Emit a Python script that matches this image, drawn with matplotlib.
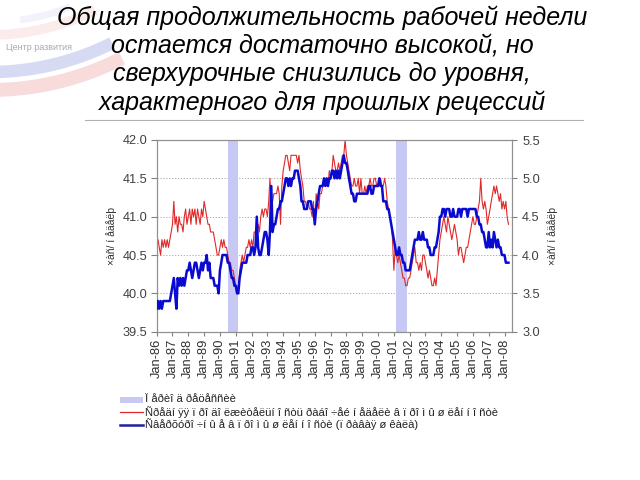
import matplotlib
matplotlib.use("Agg")
import matplotlib.pyplot as plt
import matplotlib.dates as mdates
from matplotlib.patches import Rectangle
from matplotlib.lines import Line2D
import numpy as np
import pandas as pd

plt.rcParams['font.family'] = ['Liberation Sans', 'DejaVu Sans']

# ---- data ----
start_month = "1986-01-01"

# Average weekly hours, manufacturing (left scale)
hours = [
    40.7, 40.7, 40.6, 40.5, 40.7, 40.6, 40.7, 40.6, 40.7, 40.6, 40.7, 40.8,  # 1986
    40.9, 41.2, 40.9, 41.0, 40.8, 41.0, 40.9, 40.9, 40.8, 41.0, 41.1, 40.9,  # 1987
    41.0, 41.1, 40.9, 41.1, 41.0, 41.1, 40.9, 41.1, 41.0, 40.9, 41.1, 41.0,  # 1988
    41.2, 41.1, 41.0, 40.9, 40.9, 40.8, 40.8, 40.8, 40.7, 40.6, 40.5, 40.5,  # 1989
    40.6, 40.7, 40.6, 40.7, 40.6, 40.6, 40.5, 40.4, 40.4, 40.3, 40.3, 40.2,  # 1990
    40.1, 40.1, 40.0, 40.3, 40.4, 40.5, 40.4, 40.5, 40.6, 40.6, 40.7, 40.6,  # 1991
    40.7, 40.6, 40.8, 40.8, 40.8, 40.9, 40.8, 41.0, 41.1, 41.0, 41.1, 41.1,  # 1992
    41.0, 41.2, 41.5, 41.2, 41.2, 41.3, 41.3, 41.3, 41.4, 41.3, 40.9, 41.4,  # 1993
    41.6, 41.7, 41.8, 41.8, 41.7, 41.6, 41.8, 41.8, 41.8, 41.8, 41.8, 41.7,  # 1994
    41.8, 41.6, 41.5, 41.4, 41.2, 41.2, 41.1, 41.2, 41.1, 41.1, 41.0, 41.2,  # 1995
    40.9, 41.3, 41.2, 41.1, 41.3, 41.3, 41.4, 41.5, 41.4, 41.5, 41.4, 41.6,  # 1996
    41.5, 41.6, 41.8, 41.7, 41.6, 41.6, 41.7, 41.6, 41.7, 41.8, 41.8, 42.0,  # 1997
    41.8, 41.7, 41.6, 41.5, 41.4, 41.4, 41.5, 41.4, 41.4, 41.5, 41.3, 41.5,  # 1998
    41.3, 41.3, 41.4, 41.3, 41.4, 41.4, 41.5, 41.4, 41.4, 41.5, 41.5, 41.4,  # 1999
    41.4, 41.5, 41.5, 41.4, 41.4, 41.5, 41.4, 41.2, 41.1, 41.0, 40.9, 40.7,  # 2000
    40.3, 40.6, 40.5, 40.4, 40.5, 40.4, 40.3, 40.2, 40.2, 40.1, 40.1, 40.2,  # 2001
    40.2, 40.3, 40.4, 40.5, 40.6, 40.4, 40.4, 40.3, 40.4, 40.3, 40.5, 40.5,  # 2002
    40.4, 40.3, 40.2, 40.3, 40.2, 40.1, 40.1, 40.2, 40.1, 40.3, 40.5, 40.7,  # 2003
    40.8, 40.9, 41.0, 40.9, 40.8, 41.0, 40.9, 40.8, 40.7, 40.8, 40.9, 40.8,  # 2004
    40.7, 40.5, 40.6, 40.6, 40.5, 40.4, 40.5, 40.6, 40.6, 40.7, 40.8, 40.9,  # 2005
    41.0, 40.9, 40.9, 41.0, 41.1, 41.2, 41.5, 41.2, 41.1, 41.2, 41.1, 40.9,  # 2006
    41.0, 41.1, 41.2, 41.3, 41.4, 41.3, 41.4, 41.3, 41.2, 41.3, 41.1, 41.2,  # 2007
    41.1, 41.2, 41.0, 40.9,                                                  # 2008
]

# Overtime hours, manufacturing (right scale)
overtime = [
    3.3, 3.4, 3.3, 3.4, 3.3, 3.4, 3.4, 3.4, 3.4, 3.4, 3.4, 3.5,  # 1986
    3.6, 3.7, 3.5, 3.3, 3.7, 3.6, 3.7, 3.6, 3.7, 3.6, 3.7, 3.8,  # 1987
    3.8, 3.9, 3.8, 3.7, 3.8, 3.9, 3.9, 3.8, 3.7, 3.8, 3.9, 3.8,  # 1988
    3.9, 3.9, 4.0, 3.8, 3.9, 3.7, 3.7, 3.7, 3.6, 3.6, 3.6, 3.5,  # 1989
    3.8, 3.9, 4.0, 4.0, 4.0, 4.0, 3.9, 3.9, 3.8, 3.7, 3.7, 3.6,  # 1990
    3.6, 3.5, 3.5, 3.7, 3.8, 3.9, 3.9, 3.9, 3.9, 4.0, 4.0, 4.0,  # 1991
    4.1, 4.1, 4.0, 4.1, 4.5, 4.1, 4.0, 4.0, 4.1, 4.2, 4.3, 4.3,  # 1992
    4.2, 4.0, 4.3, 4.9, 4.3, 4.4, 4.4, 4.5, 4.6, 4.6, 4.7, 4.7,  # 1993
    4.8, 4.9, 5.0, 5.0, 4.9, 5.0, 4.9, 5.0, 5.0, 5.1, 5.1, 5.1,  # 1994
    5.0, 4.9, 4.7, 4.7, 4.6, 4.6, 4.6, 4.7, 4.7, 4.7, 4.6, 4.6,  # 1995
    4.4, 4.6, 4.7, 4.8, 4.9, 4.9, 4.9, 5.0, 4.9, 5.0, 4.9, 5.0,  # 1996
    5.0, 5.1, 5.1, 5.0, 5.1, 5.0, 5.1, 5.0, 5.1, 5.2, 5.3, 5.2,  # 1997
    5.2, 5.1, 5.0, 4.9, 4.8, 4.8, 4.7, 4.7, 4.8, 4.8, 4.8, 4.8,  # 1998
    4.8, 4.8, 4.8, 4.8, 4.8, 4.9, 4.9, 4.8, 4.8, 4.9, 4.9, 4.9,  # 1999
    4.9, 5.0, 4.9, 4.9, 4.7, 4.7, 4.7, 4.6, 4.6, 4.5, 4.4, 4.3,  # 2000
    4.2, 4.1, 4.0, 4.0, 4.1, 4.0, 4.0, 3.9, 3.9, 3.8, 3.8, 3.8,  # 2001
    3.8, 3.9, 4.0, 4.1, 4.2, 4.2, 4.2, 4.3, 4.2, 4.2, 4.3, 4.2,  # 2002
    4.2, 4.2, 4.1, 4.1, 4.0, 4.0, 4.0, 4.1, 4.1, 4.2, 4.3, 4.5,  # 2003
    4.5, 4.6, 4.6, 4.5, 4.6, 4.6, 4.6, 4.5, 4.5, 4.6, 4.5, 4.5,  # 2004
    4.5, 4.6, 4.6, 4.5, 4.6, 4.6, 4.6, 4.6, 4.5, 4.6, 4.6, 4.6,  # 2005
    4.6, 4.6, 4.6, 4.5, 4.5, 4.4, 4.4, 4.3, 4.3, 4.2, 4.1, 4.1,  # 2006
    4.3, 4.1, 4.2, 4.1, 4.3, 4.2, 4.1, 4.2, 4.1, 4.1, 4.0, 4.0,  # 2007
    4.0, 3.9, 3.9, 3.9,                                          # 2008
]

recessions = [("1990-07-01", "1991-03-01"), ("2001-03-01", "2001-11-01")]

title_lines = ["Общая продолжительность рабочей недели",
               "остается достаточно высокой, но",
               "сверхурочные снизились до уровня,",
               "характерного для прошлых рецессий"]
lbl_recession = "Ï åðèî ä ðåöåññèè"
lbl_hours = "Ñðåäí ÿÿ ï ðî äî ëæèòåëüí î ñòü ðàáî ÷åé í åäåëè â ï ðî ì û ø ëåí í î ñòè"
lbl_overtime = "Ñâåðõóðî ÷í û å â ï ðî ì û ø ëåí í î ñòè (ï ðàâàÿ ø êàëà)"
ylabel = "×àñ/ í åäåëþ"
logo_text = "Центр развития"

RED = "#e02828"
BLUE = "#0a0ad0"
BAND = "#c8c8f4"

# ---- figure ----
fig = plt.figure(figsize=(6.4, 4.8), dpi=100)
fig.patch.set_facecolor("white")

W, H = 640, 480
def fx(px): return px / W
def fy(py): return 1 - py / H

# faded logo swooshes (decoration)
def arc(cx, cy, r, x0, x1):
    xs = np.linspace(x0, x1, 80)
    ys = cy + np.sqrt(np.clip(r ** 2 - (xs - cx) ** 2, 0, None))
    return fx(xs), fy(ys)
for (cx, cy, r, x0, x1, col, lw, a) in [
        (-10, -200, 290, -5, 122, "#e88a8a", 10, 0.30),
        (-10, -200, 272, -5, 112, "#8c96dc", 9, 0.35),
        (-10, -200, 235, -5, 95, "#f0a8a8", 7, 0.22),
        (-10, -200, 222, 20, 70, "#c8ccee", 5, 0.25)]:
    xs, ys = arc(cx, cy, r, x0, x1)
    fig.add_artist(Line2D(xs, ys, color=col, lw=lw, alpha=a, solid_capstyle="butt"))
fig.text(fx(6), fy(47), logo_text, fontsize=6.5, color="#a8a8b4", va="center", ha="left")

for i, line in enumerate(title_lines):
    fig.text(fx(322), fy(17.5 + 28.3 * i), line, fontsize=18, style="italic",
             ha="center", va="center", color="black")
fig.add_artist(Line2D([fx(85), fx(583)], [fy(120), fy(120)], color="#b0b0b0", lw=0.8))

ax = fig.add_axes([fx(156.7), fy(331.7), fx(511.7) - fx(156.7), fy(140) - fy(331.7)])
ax2 = ax.twinx()

dates = pd.date_range(start_month, periods=len(hours), freq="MS")
dates2 = pd.date_range(start_month, periods=len(overtime), freq="MS")

for s, e in recessions:
    ax.axvspan(pd.Timestamp(s), pd.Timestamp(e), color=BAND, lw=0, zorder=1)

for yv in [40.0, 40.5, 41.0, 41.5]:
    ax.axhline(yv, color="#a0a0a0", lw=0.6, ls=(0, (1.5, 2)), zorder=0.5)

ax.plot(dates, hours, color=RED, lw=0.8, zorder=3)
ax2.plot(dates2, overtime, color=BLUE, lw=1.8, zorder=4)

ax.set_xlim(pd.Timestamp("1986-01-01"), pd.Timestamp("2008-06-15"))
ax.set_ylim(39.5, 42.0)
ax2.set_ylim(3.0, 5.5)
ax.set_yticks([39.5, 40.0, 40.5, 41.0, 41.5, 42.0])
ax2.set_yticks([3.0, 3.5, 4.0, 4.5, 5.0, 5.5])
ax.yaxis.set_major_formatter(matplotlib.ticker.FormatStrFormatter("%.1f"))
ax2.yaxis.set_major_formatter(matplotlib.ticker.FormatStrFormatter("%.1f"))

ax.xaxis.set_major_locator(mdates.YearLocator(1, month=1, day=1))
ax.xaxis.set_major_formatter(mdates.DateFormatter("%b-%y"))
ax.tick_params(axis="x", labelrotation=90, labelsize=9.3, length=3, color="#808080",
               pad=2, labelcolor="#303030")
ax.tick_params(axis="y", labelsize=9.2, length=4.5, color="#808080", labelcolor="#404040",
               pad=2)
ax2.tick_params(axis="y", labelsize=9.2, length=3.5, color="#808080", labelcolor="#404040",
                pad=4)

for a in (ax, ax2):
    for sp in a.spines.values():
        sp.set_color("#909090")
        sp.set_linewidth(0.8)

ax.set_ylabel(ylabel, fontsize=7.5, labelpad=4, color="#303030")
ax2.set_ylabel(ylabel, fontsize=7.5, labelpad=5, color="#303030")

# legend (drawn manually to match row spacing)
rows_y = [399.5, 412.0, 424.5]
hx0, hx1, tx = 120, 143, 145
fig.add_artist(Rectangle((fx(hx0), fy(rows_y[0] + 3)), fx(hx1) - fx(hx0), 6 / H,
                         facecolor=BAND, edgecolor="none"))
fig.add_artist(Line2D([fx(hx0), fx(hx1)], [fy(rows_y[1])] * 2, color=RED, lw=0.9))
fig.add_artist(Line2D([fx(hx0), fx(hx1)], [fy(rows_y[2])] * 2, color="#2020a0", lw=1.8))
for yv, lbl in zip(rows_y, [lbl_recession, lbl_hours, lbl_overtime]):
    fig.text(fx(tx), fy(yv), lbl, fontsize=8.1, ha="left", va="center", color="#202020")

fig.savefig("out.png", dpi=100)
